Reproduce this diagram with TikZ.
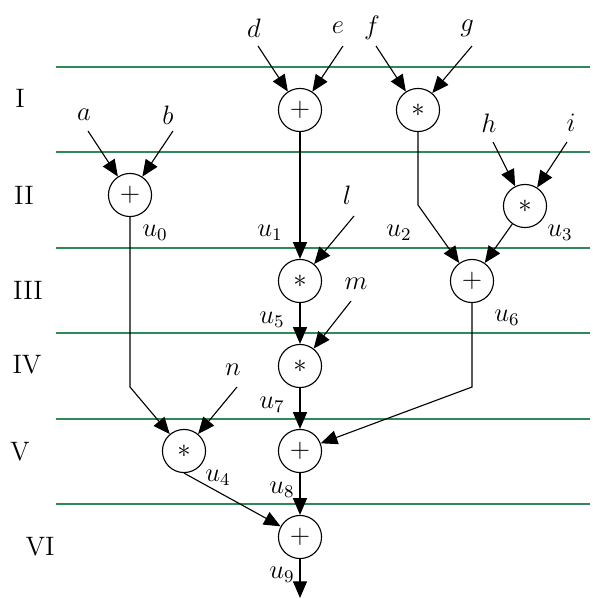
\documentclass[tikz,border=0pt]{standalone}
\usetikzlibrary{arrows.meta}
\definecolor{levelgreen}{RGB}{46,139,87}
\begin{document}
\begin{tikzpicture}[x=0.45pt,y=-0.45pt,
  font=\fontsize{12}{14}\selectfont,
  line width=0.5pt,
  op/.style={circle,draw,minimum size=19.4pt,inner sep=0pt},
  lvl/.style={draw=levelgreen,line width=0.5pt},
  flow/.style={-{Triangle[length=7.5pt,width=6.3pt]}},
  var/.style={inner sep=0pt}]
\useasboundingbox (0,0) rectangle (594,599);
% level separators
\foreach \y in {67,152,248,333,419,504}
  \draw[lvl] (56,\y) -- (590,\y);
% level names
\node at (20,98) {I};
\node at (24,195) {II};
\node at (28,290) {III};
\node at (27,365) {IV};
\node at (20,452) {V};
\node at (40,547) {VI};
% operations
\node[op] (A) at (130,195) {$+$};
\node[op] (D) at (300,110) {$+$};
\node[op] (F) at (418,110) {$*$};
\node[op] (H) at (525,206) {$*$};
\node[op] (L) at (300,281) {$*$};
\node[op] (P) at (472,281) {$+$};
\node[op] (M) at (300,366) {$*$};
\node[op] (N) at (184,451) {$*$};
\node[op] (S) at (300,451) {$+$};
\node[op] (T) at (300,537) {$+$};
% inputs
\node[var] at (84,115) {$a$};   \coordinate (a) at (88,131);
\node[var] at (168,115) {$b$};  \coordinate (b) at (173,131);
\node[var] at (254,28) {$d$};   \coordinate (d) at (258,46);
\node[var] at (338,28) {$e$};   \coordinate (e) at (343,46);
\node[var] at (372,28) {$f$};   \coordinate (f) at (376,46);
\node[var] at (467,28) {$g$};   \coordinate (g) at (472,46);
\node[var] at (489,123) {$h$};  \coordinate (h) at (493,142);
\node[var] at (571,123) {$i$};  \coordinate (i) at (567,142);
\node[var] at (347,195) {$l$};  \coordinate (l) at (354,216);
\node[var] at (356,284) {$m$};  \coordinate (m) at (351,301);
\node[var] at (233,370) {$n$};  \coordinate (n) at (237,387);
% bends and output
\coordinate (ka) at (130,387);
\coordinate (kf) at (418,205);
\coordinate (kp) at (472,387);
\coordinate (out) at (300,598);
% intermediate values
\node at (155,233) {$u_0$};
\node at (270,233) {$u_1$};
\node at (399,233) {$u_2$};
\node at (560,233) {$u_3$};
\node at (218,478) {$u_4$};
\node at (272,320) {$u_5$};
\node at (507,318) {$u_6$};
\node at (272,405) {$u_7$};
\node at (282,490) {$u_8$};
\node at (282,575) {$u_9$};
% data flow
\draw[flow] (a) -- (A);
\draw[flow] (b) -- (A);
\draw[flow] (d) -- (D);
\draw[flow] (e) -- (D);
\draw[flow] (f) -- (F);
\draw[flow] (g) -- (F);
\draw[flow] (h) -- (H);
\draw[flow] (i) -- (H);
\draw[flow] (A) -- (ka) -- (N);
\draw[flow] (D) -- (L);
\draw[flow] (l) -- (L);
\draw[flow] (F) -- (kf) -- (P);
\draw[flow] (H) -- (P);
\draw[flow] (L) -- (M);
\draw[flow] (m) -- (M);
\draw[flow] (n) -- (N);
\draw[flow] (M) -- (S);
\draw[flow] (P) -- (kp) -- (S);
\draw[flow] (N.south) -- (T);
\draw[flow] (S) -- (T);
\draw[flow] (T) -- (out);
\end{tikzpicture}
\end{document}
